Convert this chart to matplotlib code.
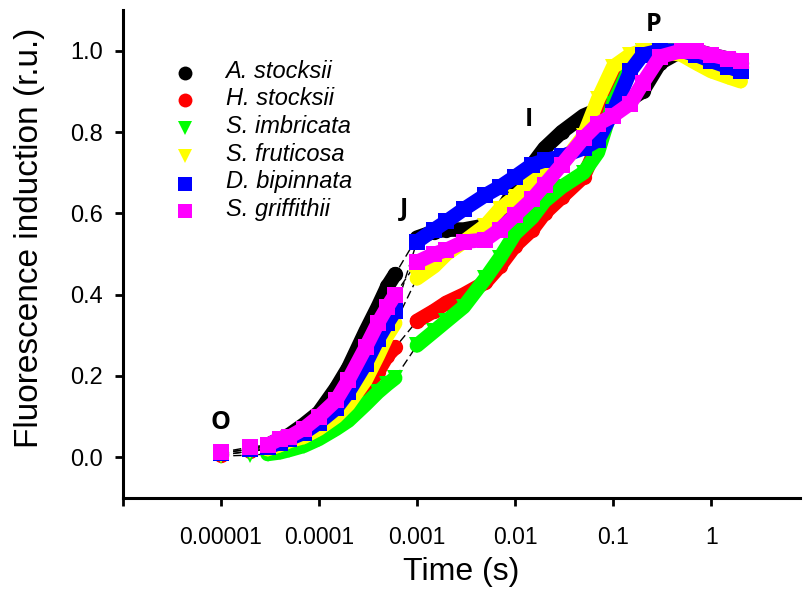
import matplotlib
matplotlib.use("Agg")
import matplotlib.pyplot as plt
from matplotlib.lines import Line2D


# --------------------------------------------------
# OJIP transient data (relative fluorescence)
# --------------------------------------------------
# fast phase (O-J), seconds
t_fast = [1e-5, 2e-5, 3e-5, 4e-5, 5e-5, 7e-5, 1e-4, 1.5e-4, 2e-4, 3e-4, 4e-4, 5e-4, 6e-4]
# slow phase (J-I-P), seconds
t_slow = [1e-3, 1.5e-3, 2e-3, 3e-3, 5e-3, 7e-3, 0.01, 0.015, 0.02, 0.03, 0.05,
          0.07, 0.1, 0.15, 0.2, 0.3, 0.5, 0.7, 1, 1.5, 2]

species = ["A. stocksii", "H. stocksii", "S. imbricata",
           "S. fruticosa", "D. bipinnata", "S. griffithii"]

a_stocksii_fast = [0.01, 0.02, 0.03, 0.045, 0.055, 0.08, 0.11, 0.17, 0.22, 0.31, 0.37, 0.42, 0.45]
a_stocksii_slow = [0.54, 0.555, 0.56, 0.56, 0.57, 0.60, 0.66, 0.72, 0.76, 0.80, 0.84,
                   0.855, 0.87, 0.88, 0.90, 0.97, 1.0, 1.0, 0.99, 0.98, 0.97]

h_stocksii_fast = [0.005, 0.015, 0.02, 0.025, 0.035, 0.045, 0.06, 0.085, 0.11, 0.17, 0.21, 0.25, 0.27]
h_stocksii_slow = [0.335, 0.36, 0.38, 0.40, 0.43, 0.47, 0.52, 0.56, 0.60, 0.64, 0.69,
                   0.77, 0.90, 0.97, 1.0, 1.0, 1.0, 0.99, 0.98, 0.97, 0.96]

s_imbricata_fast = [0.003, 0.005, 0.008, 0.012, 0.018, 0.028, 0.045, 0.07, 0.09, 0.13, 0.16, 0.18, 0.195]
s_imbricata_slow = [0.275, 0.31, 0.335, 0.37, 0.44, 0.49, 0.55, 0.59, 0.63, 0.665, 0.70,
                    0.75, 0.87, 0.96, 1.0, 1.0, 1.0, 0.99, 0.98, 0.97, 0.96]

s_fruticosa_fast = [0.005, 0.015, 0.02, 0.03, 0.04, 0.05, 0.07, 0.10, 0.13, 0.19, 0.25, 0.30, 0.33]
s_fruticosa_slow = [0.44, 0.47, 0.50, 0.53, 0.57, 0.61, 0.64, 0.68, 0.70, 0.72, 0.79,
                    0.88, 0.96, 0.99, 1.0, 1.0, 0.99, 0.97, 0.95, 0.935, 0.925]

d_bipinnata_fast = [0.01, 0.02, 0.025, 0.035, 0.045, 0.06, 0.085, 0.12, 0.16, 0.23, 0.29, 0.33, 0.36]
d_bipinnata_slow = [0.53, 0.56, 0.58, 0.61, 0.645, 0.665, 0.69, 0.72, 0.73, 0.74, 0.76,
                    0.78, 0.85, 0.95, 0.99, 1.0, 1.0, 0.99, 0.975, 0.96, 0.95]

s_griffithii_fast = [0.012, 0.025, 0.03, 0.045, 0.05, 0.07, 0.10, 0.14, 0.19, 0.27, 0.33, 0.37, 0.40]
s_griffithii_slow = [0.48, 0.50, 0.51, 0.53, 0.535, 0.56, 0.595, 0.635, 0.67, 0.72, 0.785,
                     0.82, 0.84, 0.87, 0.92, 0.985, 1.0, 1.0, 0.99, 0.98, 0.975]

fast_values = [a_stocksii_fast, h_stocksii_fast, s_imbricata_fast,
               s_fruticosa_fast, d_bipinnata_fast, s_griffithii_fast]
slow_values = [a_stocksii_slow, h_stocksii_slow, s_imbricata_slow,
               s_fruticosa_slow, d_bipinnata_slow, s_griffithii_slow]

colors = ["#000000", "#ff0000", "#00ff00", "#ffff00", "#0000ff", "#ff00ff"]
markers = ["o", "o", "v", "v", "s", "s"]

x_ticks = [1e-6, 1e-5, 1e-4, 1e-3, 1e-2, 1e-1, 1]
x_tick_labels = ["", "0.00001", "0.0001", "0.001", "0.01", "0.1", "1"]
y_ticks = [0.0, 0.2, 0.4, 0.6, 0.8, 1.0]

# step labels: (text, time, value)
steps = [("O", 1e-5, 0.085), ("J", 7.3e-4, 0.61), ("I", 0.014, 0.83), ("P", 0.26, 1.065)]

plt.rcParams["font.family"] = ["Liberation Sans", "DejaVu Sans"]

# --------------------------------------------------
# Plot
# --------------------------------------------------
fig = plt.figure(figsize=(8.07, 5.92), dpi=100)
ax = fig.add_axes([0.152, 0.159, 0.839, 0.824])

for i in range(len(species)):
    fast = fast_values[i]
    slow = slow_values[i]
    z = 3 + i

    # thin connecting line, only visible between sparse points and across the gap
    ax.plot(t_fast + t_slow, fast + slow, color="black", lw=1.0,
            linestyle=(0, (6, 3)), zorder=2)

    # dense marker band
    ax.plot(t_fast[2:], fast[2:], color=colors[i], lw=10.5, solid_capstyle="round",
            solid_joinstyle="round", zorder=z)
    ax.plot(t_slow, slow, color=colors[i], lw=10.5, solid_capstyle="round",
            solid_joinstyle="round", zorder=z)
    ax.plot(t_fast + t_slow, fast + slow, linestyle="none", marker=markers[i],
            markersize=11, markeredgewidth=0, color=colors[i], zorder=z)

# O, J, I, P labels
for text, tx, ty in steps:
    ax.text(tx, ty, text, fontsize=18, fontweight="bold", ha="center",
            va="center", family=["Open Sans", "DejaVu Sans"], zorder=10)

# --------------------------------------------------
# Axes
# --------------------------------------------------
ax.set_xscale("log")
ax.set_xlim(1e-6, 8)
ax.set_ylim(-0.1, 1.1)
ax.set_xticks(x_ticks)
ax.set_xticklabels(x_tick_labels)
ax.xaxis.set_minor_locator(matplotlib.ticker.NullLocator())
ax.set_yticks(y_ticks)
ax.set_yticklabels([f"{v:.1f}" for v in y_ticks])

ax.spines["top"].set_visible(False)
ax.spines["right"].set_visible(False)
ax.spines["left"].set_linewidth(2.2)
ax.spines["bottom"].set_linewidth(2.2)
ax.tick_params(axis="x", direction="out", length=6, width=2, labelsize=16.5, pad=14)
ax.tick_params(axis="y", direction="out", length=6, width=2, labelsize=17, pad=8)

ax.set_xlabel("Time (s)", fontsize=23, labelpad=6)
ax.set_ylabel("Fluorescence induction (r.u.)", fontsize=24)
ax.yaxis.set_label_coords(-0.114, 0.533)

# --------------------------------------------------
# Legend
# --------------------------------------------------
handles = [Line2D([], [], linestyle="none", marker=markers[i], markersize=10,
                  markeredgewidth=0, color=colors[i]) for i in range(len(species))]
leg = ax.legend(handles, species, loc="upper left", bbox_to_anchor=(0.074, 0.91),
                frameon=False, handlelength=1.0, handletextpad=2.4,
                labelspacing=0.34, borderaxespad=0)
for txt in leg.get_texts():
    txt.set_fontsize(17)
    txt.set_fontstyle("italic")

fig.savefig("out.png", dpi=100)
